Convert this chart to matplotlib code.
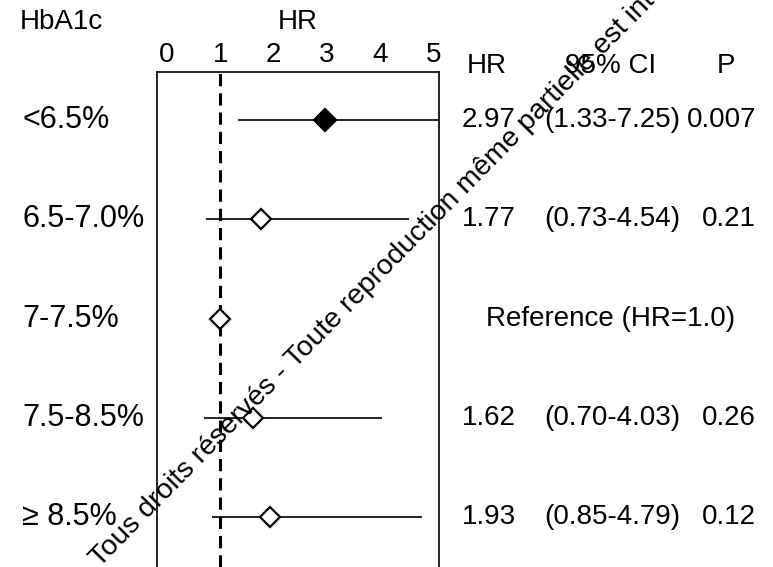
import matplotlib
matplotlib.use('Agg')
import matplotlib.pyplot as plt
from matplotlib.transforms import blended_transform_factory

plt.rcParams['font.family'] = ['Liberation Sans', 'DejaVu Sans']

# HbA1c strata and hazard ratios (7-7.5% is the reference group)
groups = ['<6.5%', '6.5-7.0%', '7-7.5%', '7.5-8.5%', '≥ 8.5%']
hr = [2.97, 1.77, 1.0, 1.62, 1.93]
ci_low = [1.33, 0.73, None, 0.70, 0.85]
ci_high = [7.25, 4.54, None, 4.03, 4.79]
p_values = ['0.007', '0.21', None, '0.26', '0.12']
significant = [True, False, False, False, False]
ref_label = 'Reference (HR=1.0)'
x_ticks = [0, 1, 2, 3, 4, 5]

W, H = 773, 567
fig = plt.figure(figsize=(W / 100, H / 100), dpi=100)


def fx(px):
    return px / W


def fy(py):
    return 1 - py / H


ax = fig.add_axes([fx(157), 0, fx(439) - fx(157), fy(72)])
ax.set_xlim(-0.19, 5.11)
ax.set_ylim(4.5, -0.48)

rows = list(range(len(groups)))

# reference line at HR = 1
ax.axvline(1, color='k', lw=2.2, ls=(0, (4, 2.3)), zorder=1)

for i in rows:
    if ci_low[i] is not None:
        ax.hlines(i, ci_low[i], ci_high[i], color='k', lw=1.2, zorder=2)
    face = 'k' if significant[i] else 'white'
    ax.plot(hr[i], i, marker='D', ms=11 if significant[i] else 10,
            mfc=face, mec='k', mew=1.6, zorder=3)

ax.xaxis.tick_top()
ax.set_xticks(x_ticks)
ax.tick_params(axis='x', length=0, labelsize=20, pad=3)
ax.set_yticks([])
for side in ['top', 'left', 'right']:
    ax.spines[side].set_linewidth(1.2)
ax.spines['bottom'].set_visible(False)

# headers
fig.text(fx(20), fy(22), 'HbA1c', fontsize=20, ha='left', va='center')
fig.text(fx(298), fy(22), 'HR', fontsize=20, ha='center', va='center')
fig.text(fx(487), fy(66), 'HR', fontsize=20, ha='center', va='center')
fig.text(fx(611), fy(66), '95% CI', fontsize=20, ha='center', va='center')
fig.text(fx(726), fy(66), 'P', fontsize=20, ha='center', va='center')

# row labels and statistics table
tr = blended_transform_factory(fig.transFigure, ax.transData)
for i in rows:
    ax.text(fx(22), i, groups[i], transform=tr, fontsize=22,
            ha='left', va='center', clip_on=False)
    if ci_low[i] is None:
        ax.text(fx(611), i, ref_label, transform=tr, fontsize=20,
                ha='center', va='center', clip_on=False)
        continue
    ax.text(fx(462), i, f'{hr[i]:.2f}', transform=tr, fontsize=20,
            ha='left', va='center', clip_on=False)
    ax.text(fx(612), i, f'({ci_low[i]:.2f}-{ci_high[i]:.2f})', transform=tr,
            fontsize=20, ha='center', va='center', clip_on=False)
    ax.text(fx(756), i, p_values[i], transform=tr, fontsize=20,
            ha='right', va='center', clip_on=False)

# copyright notice across the figure
fig.text(fx(100), fy(568),
         'Tous droits réservés - Toute reproduction même partielle est interdite',
         fontsize=20.5, rotation=45.5, rotation_mode='anchor',
         ha='left', va='baseline', zorder=10)

fig.savefig('out.png', dpi=100)
